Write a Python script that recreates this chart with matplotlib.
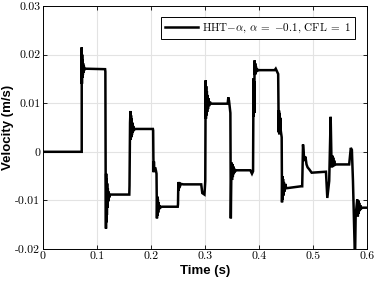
import matplotlib
matplotlib.use("Agg")
import matplotlib.pyplot as plt

plt.rcParams['font.family'] = 'cmr10'
plt.rcParams['mathtext.fontset'] = 'cm'
plt.rcParams['axes.unicode_minus'] = False

# velocity trace (time in s, velocity in m/s)
time_s = [
    0.0000, 0.0717, 0.0717, 0.0721, 0.0725, 0.0729, 0.0733, 0.0738, 0.0743, 0.0749,
    0.0756, 0.0765, 0.0780, 0.1150, 0.1155, 0.1160, 0.1166, 0.1170, 0.1174, 0.1178,
    0.1183, 0.1188, 0.1194, 0.1200, 0.1208, 0.1216, 0.1226, 0.1240, 0.1598, 0.1602,
    0.1612, 0.1620, 0.1625, 0.1630, 0.1635, 0.1641, 0.1647, 0.1654, 0.1661, 0.1670,
    0.1685, 0.1700, 0.2035, 0.2040, 0.2044, 0.2049, 0.2054, 0.2061, 0.2075, 0.2090,
    0.2102, 0.2110, 0.2116, 0.2121, 0.2127, 0.2133, 0.2139, 0.2146, 0.2155, 0.2170,
    0.2200, 0.2495, 0.2500, 0.2506, 0.2511, 0.2516, 0.2522, 0.2528, 0.2536, 0.2550,
    0.2600, 0.2930, 0.2950, 0.2990, 0.3005, 0.3012, 0.3017, 0.3022, 0.3028, 0.3034,
    0.3040, 0.3047, 0.3055, 0.3064, 0.3075, 0.3090, 0.3110, 0.3420, 0.3432, 0.3445,
    0.3470, 0.3478, 0.3490, 0.3500, 0.3508, 0.3515, 0.3523, 0.3532, 0.3545, 0.3560,
    0.3580, 0.3840, 0.3870, 0.3890, 0.3898, 0.3903, 0.3908, 0.3913, 0.3918, 0.3925,
    0.3930, 0.3936, 0.3942, 0.3950, 0.3960, 0.3975, 0.4000, 0.4290, 0.4310, 0.4355,
    0.4360, 0.4365, 0.4370, 0.4375, 0.4380, 0.4385, 0.4395, 0.4400, 0.4420, 0.4426,
    0.4432, 0.4438, 0.4445, 0.4452, 0.4460, 0.4470, 0.4485, 0.4505, 0.4775, 0.4800,
    0.4815, 0.4830, 0.4845, 0.4860, 0.4880, 0.4900, 0.4930, 0.4975, 0.5220, 0.5240,
    0.5265, 0.5300, 0.5327, 0.5340, 0.5352, 0.5360, 0.5367, 0.5374, 0.5382, 0.5392,
    0.5405, 0.5425, 0.5670, 0.5700, 0.5720, 0.5740, 0.5778, 0.5790, 0.5820, 0.5830,
    0.5838, 0.5846, 0.5855, 0.5864, 0.5875, 0.5890, 0.5910, 0.6000,
]
velocity = [
    0.0000, 0.0000, 0.0215, 0.0140, 0.0200, 0.0152, 0.0190, 0.0158, 0.0182, 0.0163,
    0.0177, 0.0168, 0.0171, 0.0170, 0.0165, -0.0040, -0.0158, -0.0045, -0.0145, -0.0055,
    -0.0130, -0.0065, -0.0115, -0.0075, -0.0102, -0.0082, -0.0094, -0.0088, -0.0088, -0.0070,
    0.0060, 0.0084, 0.0025, 0.0075, 0.0030, 0.0068, 0.0035, 0.0060, 0.0040, 0.0053,
    0.0045, 0.0047, 0.0047, 0.0044, -0.0010, -0.0042, -0.0020, -0.0040, -0.0032, -0.0038,
    -0.0045, -0.0137, -0.0092, -0.0132, -0.0098, -0.0125, -0.0104, -0.0119, -0.0110, -0.0115,
    -0.0113, -0.0113, -0.0108, -0.0063, -0.0080, -0.0062, -0.0075, -0.0064, -0.0071, -0.0066,
    -0.0067, -0.0067, -0.0085, -0.0088, -0.0060, 0.0147, 0.0068, 0.0135, 0.0075, 0.0125,
    0.0082, 0.0117, 0.0088, 0.0110, 0.0094, 0.0103, 0.0099, 0.0099, 0.0112, 0.0105,
    0.0080, -0.0137, -0.0022, -0.0058, -0.0025, -0.0052, -0.0030, -0.0046, -0.0035, -0.0040,
    -0.0038, -0.0038, -0.0045, -0.0040, 0.0151, 0.0073, 0.0145, 0.0080, 0.0188, 0.0158,
    0.0182, 0.0160, 0.0176, 0.0164, 0.0172, 0.0167, 0.0168, 0.0168, 0.0171, 0.0160,
    0.0087, 0.0040, 0.0085, 0.0036, 0.0080, 0.0040, 0.0070, 0.0046, 0.0030, -0.0104,
    -0.0050, -0.0098, -0.0056, -0.0090, -0.0062, -0.0082, -0.0066, -0.0075, -0.0071, -0.0071,
    0.0015, -0.0006, -0.0019, -0.0010, -0.0026, -0.0032, -0.0036, -0.0043, -0.0041, -0.0041,
    -0.0095, -0.0060, 0.0072, -0.0006, -0.0032, -0.0008, -0.0030, -0.0012, -0.0028, -0.0018,
    -0.0027, -0.0026, -0.0026, 0.0008, 0.0004, -0.0060, -0.0225, -0.0130, -0.0098, -0.0133,
    -0.0100, -0.0128, -0.0105, -0.0122, -0.0110, -0.0117, -0.0115, -0.0115,
]
legend_label = r"HHT$-\alpha$, $\alpha\;=\;{-}0.1$, CFL$\;=\;1$"

x_ticks = [0, 0.1, 0.2, 0.3, 0.4, 0.5, 0.6]
x_tick_labels = ["0", "0.1", "0.2", "0.3", "0.4", "0.5", "0.6"]
y_ticks = [-0.02, -0.01, 0, 0.01, 0.02, 0.03]
y_tick_labels = ["-0.02", "-0.01", "0", "0.01", "0.02", "0.03"]

fig = plt.figure(figsize=(3.74, 2.85), dpi=100)
ax = fig.add_axes([43 / 374, 36 / 285, 324 / 374, 243 / 285])

ax.plot(time_s, velocity, color='black', lw=1.8, label=legend_label,
        solid_joinstyle='miter')

ax.set_xlim(0, 0.6)
ax.set_ylim(-0.02, 0.03)
ax.set_xticks(x_ticks)
ax.set_xticklabels(x_tick_labels)
ax.set_yticks(y_ticks)
ax.set_yticklabels(y_tick_labels)
ax.tick_params(direction='in', top=True, right=True, labelsize=8.5, length=3,
               width=0.6, pad=2)
ax.grid(True, color='#e3e3e3', lw=0.8)
ax.set_axisbelow(True)
for sp in ax.spines.values():
    sp.set_linewidth(0.7)

lab_font = dict(family='Liberation Sans', weight='bold', size=9.5)
ax.set_xlabel("Time (s)", fontdict=lab_font, labelpad=3)
ax.set_ylabel("Velocity (m/s)", fontdict=lab_font, labelpad=1)

leg = ax.legend(loc='upper right', bbox_to_anchor=(0.963, 0.953), borderaxespad=0,
                fontsize=8.0, handlelength=3.0, fancybox=False, framealpha=1,
                edgecolor='black', borderpad=0.35, handletextpad=0.4)
leg.get_frame().set_linewidth(0.7)

fig.savefig("out.png", dpi=100)
